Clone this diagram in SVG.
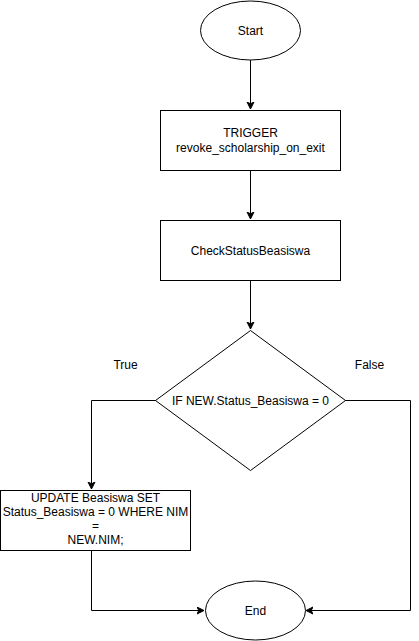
<svg xmlns="http://www.w3.org/2000/svg" width="419" height="641" viewBox="0 0 419 641">
<defs>
<style>
.shape{fill:#ffffff;stroke:#000000;stroke-width:1}
.edge{fill:none;stroke:#000000;stroke-width:1}
text{font-family:"Liberation Sans",Arial,Helvetica,sans-serif;font-size:12px;fill:#000000;text-anchor:middle}
</style>
<marker id="arr" markerWidth="10" markerHeight="10" refX="7" refY="4" orient="auto" markerUnits="userSpaceOnUse">
<path d="M0,0.5 L7,4 L0,7.5 L1.8,4 Z" fill="#000000" stroke="#000000" stroke-width="1"/>
</marker>
</defs>
<rect x="0" y="0" width="419" height="641" fill="#ffffff"/>
<g id="connectors">
<path class="edge" d="M250.5,60 L250.5,109" marker-end="url(#arr)"/>
<path class="edge" d="M250.5,170.5 L250.5,219" marker-end="url(#arr)"/>
<path class="edge" d="M250.5,280.5 L250.5,329" marker-end="url(#arr)"/>
<path class="edge" d="M156,400.5 L91.5,400.5 L91.5,489" marker-end="url(#arr)"/>
<path class="edge" d="M91.5,550.5 L91.5,610.5 L204,610.5" marker-end="url(#arr)"/>
<path class="edge" d="M345,400.5 L410.5,400.5 L410.5,610.5 L306,610.5" marker-end="url(#arr)"/>
</g>
<g id="start">
<ellipse class="shape" cx="250.5" cy="30.5" rx="50" ry="29.5"/>
<text x="250.5" y="34.5">Start</text>
</g>
<g id="trigger">
<rect class="shape" x="160.5" y="110.5" width="180" height="60"/>
<text x="250.5" y="137">TRIGGER</text>
<text x="250.5" y="152">revoke_scholarship_on_exit</text>
</g>
<g id="check">
<rect class="shape" x="160.5" y="220.5" width="180" height="60"/>
<text x="250.5" y="254.5">CheckStatusBeasiswa</text>
</g>
<g id="decision">
<polygon class="shape" points="250.5,330.5 345.5,400.5 250.5,470.5 155.5,400.5"/>
<text x="250.5" y="404.5">IF NEW.Status_Beasiswa = 0</text>
</g>
<g id="update">
<rect class="shape" x="0.5" y="490.5" width="190" height="60"/>
<text x="95.5" y="502">UPDATE Beasiswa SET</text>
<text x="95.5" y="516">Status_Beasiswa = 0 WHERE NIM</text>
<text x="95.5" y="530">=</text>
<text x="95.5" y="544">NEW.NIM;</text>
</g>
<g id="end">
<ellipse class="shape" cx="255.5" cy="610.5" rx="50" ry="29.5"/>
<text x="255.5" y="614.5">End</text>
</g>
<g id="labels">
<text x="125.5" y="369">True</text>
<text x="369.5" y="369">False</text>
</g>
</svg>
